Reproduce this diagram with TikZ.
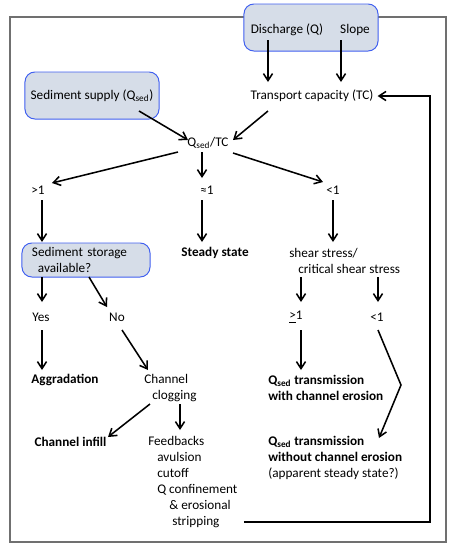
\documentclass[tikz,border=0pt]{standalone}
\usepackage{fontspec}
\setmainfont{Carlito}
\usetikzlibrary{arrows.meta}
\definecolor{boxfill}{RGB}{214,221,232}
\definecolor{boxline}{RGB}{64,96,240}
\definecolor{framegray}{RGB}{112,112,112}
\tikzset{
	txt/.style={inner sep=0pt, font=\fontsize{9.4}{11.4}\selectfont},
	txtbold/.style={txt, font=\fontsize{9.4}{11.4}\selectfont\bfseries},
	inbox/.style={draw=boxline, fill=boxfill, line width=0.7pt, rounded corners=7pt},
	arr/.style={line width=1.1pt, -{Straight Barb[length=5pt,width=6.5pt]}},
}

\begin{document}
\begin{tikzpicture}[x=0.025cm, y=-0.025cm]
		%%%%% START %%%%%
		\useasboundingbox (0,0) rectangle (452,549);
		\draw[framegray, line width=1.2pt] (10,17) rectangle (446,542);
		
		% inputs
		\node[inbox, minimum width=3.35cm, minimum height=1.175cm] (drivers) at (311,27.5) {};
		\node[txt] (dis) at (287,30) {Discharge (Q)};
		\node[txt] (slope) at (355,30) {Slope};
		\node[txt] (tc) at (312,96) {Transport capacity (TC)};
		\node[inbox, txt, minimum width=3.35cm, minimum height=1.175cm] (supply) at (92,95.5) {Sediment supply (Q\textsubscript{sed})};
		\node[txt] (ratio) at (208,143) {Q\textsubscript{sed}/TC};
		
		% ratio classes
		\node[txt] (gt) at (38,190) {>1};
		\node[txt] (approx) at (207,190) {≈1};
		\node[txt] (lt) at (333,190) {<1};
		
		\node[inbox, txt, minimum width=3.2cm, minimum height=0.85cm, text width=2.7cm, align=left] (storage) at (86,260) {Sediment storage\\\hspace*{1.5mm}available?};
		\node[txtbold] (steady) at (215,253) {Steady state};
		\node[txt, anchor=west, align=left] (shear) at (289,261) {shear stress/\\\hspace*{2.25mm}critical shear stress};
		
		\node[txt] (yes) at (41,317) {Yes};
		\node[txt] (no) at (117,317) {No};
		\node[txt] (ge) at (296,317) {\underline{>}1};
		\node[txt] (ltb) at (377,317) {<1};
		
		% outcomes
		\node[txtbold] (aggr) at (65,380) {Aggradation};
		\node[txt, anchor=west, align=left] (clog) at (144,388) {Channel\\\hspace*{2mm}clogging};
		\node[txtbold, anchor=west, align=left] (qwith) at (268,388) {Q\textsubscript{sed} transmission\\with channel erosion};
		\node[txtbold] (infill) at (70.5,442) {Channel infill};
		\node[txt, anchor=west, align=left] (feed) at (148,482) {Feedbacks\\\hspace*{2.25mm}avulsion\\\hspace*{2.25mm}cutoff\\\hspace*{2.25mm}Q confinement\\\hspace*{5.25mm}\& erosional\\\hspace*{6mm}stripping};
		\node[txt, anchor=west, align=left] (qwithout) at (268,458) {\textbf{Q\textsubscript{sed} transmission}\\\textbf{without channel erosion}\\(apparent steady state?)};
		
		% arrows
		\draw[arr] ([shift={(-19,10)}]dis.center) -- ([shift={(-44,-14)}]tc.center);
		\draw[arr] ([shift={(-14,10)}]slope.center) -- ([shift={(29,-14)}]tc.center);
		\draw[arr] ([shift={(47,15.5)}]supply.center) -- ([shift={(-20,-3)}]ratio.center);
		\draw[arr] ([shift={(-44,15)}]tc.center) -- ([shift={(25,-3)}]ratio.center);
		\draw[arr] ([shift={(-30,9)}]ratio.center) -- ([shift={(14,-7)}]gt.center);
		\draw[arr] ([shift={(-6,9)}]ratio.center) -- ([shift={(-5,-12)}]approx.center);
		\draw[arr] ([shift={(25,10)}]ratio.center) -- ([shift={(-10,-8)}]lt.center);
		\draw[arr] ([shift={(4,10)}]gt.center) -- ([shift={(-44,-18)}]storage.center);
		\draw[arr] ([shift={(-5,10)}]approx.center) -- ([shift={(-13,-11)}]steady.center);
		\draw[arr] ([shift={(0,10)}]lt.center) -- ([shift={(44,-19)}]shear.west);
		\draw[arr] ([shift={(-44,17)}]storage.center) -- ([shift={(1,-15)}]yes.center);
		\draw[arr] ([shift={(3,17)}]storage.center) -- ([shift={(-10,-10)}]no.center);
		\draw[arr] ([shift={(12,16)}]shear.west) -- ([shift={(5,-15)}]ge.center);
		\draw[arr] ([shift={(89,16)}]shear.west) -- ([shift={(1,-15)}]ltb.center);
		\draw[arr] ([shift={(1,13)}]yes.center) -- ([shift={(-23,-10)}]aggr.center);
		\draw[arr] ([shift={(5,13)}]no.center) -- ([shift={(4,-18)}]clog.west);
		\draw[arr] ([shift={(5,13)}]ge.center) -- ([shift={(33,-18)}]qwith.west);
		\draw[arr] ([shift={(1,13)}]ltb.center) -- ([shift={(24,68)}]ltb.center) -- ([shift={(111,-20)}]qwithout.west);
		\draw[arr] ([shift={(6,16)}]clog.west) -- ([shift={(37.5,-5)}]infill.center);
		\draw[arr] ([shift={(36,16)}]clog.west) -- ([shift={(32,-52)}]feed.west);
		\draw[arr] ([shift={(96,40)}]feed.west) -- ++(186,0) |- ([shift={(4,0)}]tc.east);
		%%%%% END %%%%%
	\end{tikzpicture}
\end{document}
